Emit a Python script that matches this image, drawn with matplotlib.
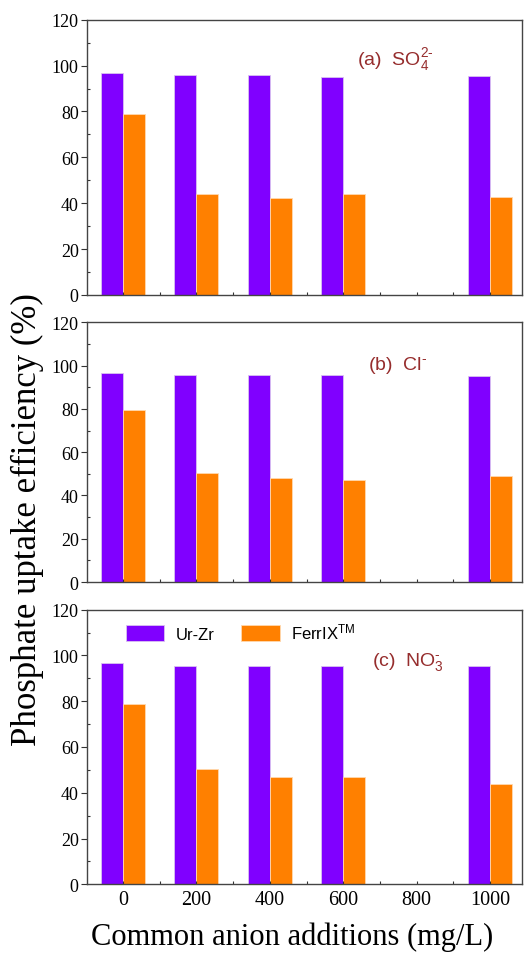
import matplotlib
matplotlib.use("Agg")
import matplotlib.pyplot as plt
from matplotlib.ticker import MultipleLocator
import numpy as np

plt.rcParams["mathtext.fontset"] = "custom"
plt.rcParams["mathtext.rm"] = "Liberation Sans"
plt.rcParams["mathtext.it"] = "Liberation Sans:italic"
plt.rcParams["mathtext.bf"] = "Liberation Sans:bold"

categories = [0, 200, 400, 600, 800, 1000]
# NaN = no bar (800 mg/L not measured)
urzr_so4 = [96.6, 95.8, 95.9, 95.0, np.nan, 95.3]
ferrix_so4 = [78.9, 44.0, 42.3, 44.0, np.nan, 42.9]
urzr_cl = [96.7, 95.5, 95.5, 95.6, np.nan, 95.4]
ferrix_cl = [79.3, 50.4, 48.1, 47.0, np.nan, 48.8]
urzr_no3 = [96.8, 95.4, 95.4, 95.5, np.nan, 95.5]
ferrix_no3 = [78.9, 50.2, 46.7, 47.0, np.nan, 43.9]
series_names = ["Ur-Zr", r"FerrIX$^{\mathrm{TM}}$"]
panel_labels = [r"(a)  SO$_4^{2\text{-}}$", r"(b)  Cl$^{\text{-}}$", r"(c)  NO$_3^{\text{-}}$"]

purple = "#8000FF"
orange = "#FF8000"
W, H = 530, 954
fig = plt.figure(figsize=(W/100, H/100), dpi=100)

boxes = [(20.7, 296.0), (323.3, 583.0), (610.7, 885.3)]
left_px, right_px = 87, 522
data = [(urzr_so4, ferrix_so4), (urzr_cl, ferrix_cl), (urzr_no3, ferrix_no3)]
label_pos = [(638, 103), (668, 100.5), (678, 97.5)]

x = np.array(categories, dtype=float)
bw = 60
for i, ((top, bot), (u, f)) in enumerate(zip(boxes, data)):
    ax = fig.add_axes([left_px/W, 1 - bot/H, (right_px-left_px)/W, (bot-top)/H])
    b1 = ax.bar(x - bw/2, u, width=bw, color=purple, edgecolor="#d9c2f0", linewidth=0.6, label=series_names[0])
    b2 = ax.bar(x + bw/2, f, width=bw, color=orange, edgecolor="#ffd9b0", linewidth=0.6, label=series_names[1])
    ax.set_xlim(-98, 1087)
    ax.set_ylim(0, 120)
    ax.yaxis.set_major_locator(MultipleLocator(20))
    ax.yaxis.set_minor_locator(MultipleLocator(10))
    ax.xaxis.set_major_locator(MultipleLocator(200))
    ax.xaxis.set_minor_locator(MultipleLocator(100))
    ax.tick_params(axis="y", which="major", direction="out", length=4, width=0.8,
                   labelsize=13, colors="#333333", pad=2)
    ax.tick_params(axis="y", which="minor", direction="in", length=2.5, width=0.8, colors="#333333")
    ax.tick_params(axis="x", which="both", direction="in", length=2.5, width=0.8,
                   labelsize=14.5, colors="#333333", pad=4)
    for lab in ax.get_yticklabels() + ax.get_xticklabels():
        lab.set_family("Liberation Serif")
        lab.set_color("black")
    if i < 2:
        ax.tick_params(axis="x", labelbottom=False)
    for s in ax.spines.values():
        s.set_color("#444444")
        s.set_linewidth(1.0)
    ax.text(label_pos[i][0], label_pos[i][1], panel_labels[i], fontsize=14,
            family="Liberation Sans", color="#962d2d", va="center", ha="left")
    if i == 2:
        ax.legend(handles=[b1, b2], loc="upper left", ncol=2, frameon=False,
                  bbox_to_anchor=(0.055, 1.01), prop={"family": "Liberation Sans", "size": 12},
                  handlelength=2.3, handleheight=1.1, columnspacing=1.6, handletextpad=0.7)

fig.text(27/W, 1 - 520/H, "Phosphate uptake efficiency (%)", rotation=90,
         family="Liberation Serif", fontsize=25, ha="center", va="center")
fig.text(292/W, 1 - 937/H, "Common anion additions (mg/L)",
         family="Liberation Serif", fontsize=22, ha="center", va="center")

fig.savefig("out.png", dpi=100)
